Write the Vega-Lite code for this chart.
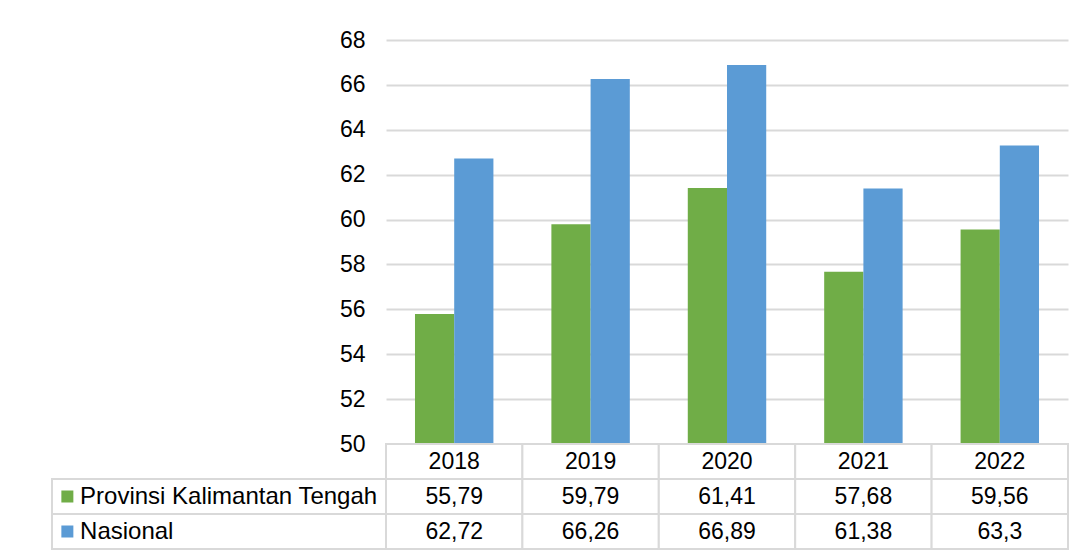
{
  "$schema": "https://vega.github.io/schema/vega-lite/v6.json",
  "background": "white",
  "padding": {"left": 51, "top": 29, "right": 20, "bottom": 7},
  "config": {
    "view": {"stroke": null},
    "font": "Liberation Sans",
    "locale": {"number": {"decimal": ",", "thousands": ".", "grouping": [3], "currency": ["", ""]}}
  },
  "datasets": {
    "bars": [
      {"year": "2018", "series": "Provinsi Kalimantan Tengah", "value": 55.79},
      {"year": "2019", "series": "Provinsi Kalimantan Tengah", "value": 59.79},
      {"year": "2020", "series": "Provinsi Kalimantan Tengah", "value": 61.41},
      {"year": "2021", "series": "Provinsi Kalimantan Tengah", "value": 57.68},
      {"year": "2022", "series": "Provinsi Kalimantan Tengah", "value": 59.56},
      {"year": "2018", "series": "Nasional", "value": 62.72},
      {"year": "2019", "series": "Nasional", "value": 66.26},
      {"year": "2020", "series": "Nasional", "value": 66.89},
      {"year": "2021", "series": "Nasional", "value": 61.38},
      {"year": "2022", "series": "Nasional", "value": 63.3}
    ]
  },
  "columns": 2,
  "spacing": 0,
  "bounds": "flush",
  "concat": [
    {
      "width": 334,
      "height": 404,
      "data": {"values": []},
      "mark": "point",
      "encoding": {}
    },
    {
      "width": 682,
      "height": 404,
      "data": {"name": "bars"},
      "mark": {"type": "bar", "clip": true},
      "encoding": {
        "x": {"field": "year", "type": "nominal", "scale": {"paddingInner": 0.425, "paddingOuter": 0.2125}, "axis": null},
        "xOffset": {"field": "series", "type": "nominal", "sort": ["Provinsi Kalimantan Tengah", "Nasional"], "scale": {"paddingInner": 0, "paddingOuter": 0}},
        "y": {
          "field": "value", "type": "quantitative",
          "scale": {"domain": [50, 68], "nice": false, "zero": false},
          "axis": {
            "values": [50, 52, 54, 56, 58, 60, 62, 64, 66, 68],
            "title": null, "domain": false, "ticks": false,
            "labelPadding": 21, "labelFontSize": 23, "labelColor": "#000000",
            "gridColor": "#d9d9d9", "gridWidth": 2
          }
        },
        "y2": {"datum": 50},
        "color": {
          "field": "series", "type": "nominal",
          "scale": {"domain": ["Provinsi Kalimantan Tengah", "Nasional"], "range": ["#70ad47", "#5b9bd5"]},
          "legend": null
        }
      }
    },
    {
      "width": 334,
      "height": 105,
      "data": {"name": "bars"},
      "transform": [{"aggregate": [{"op": "count", "as": "n"}], "groupby": ["series"]}],
      "encoding": {
        "y": {"field": "series", "type": "nominal", "scale": {"domain": ["year", "Provinsi Kalimantan Tengah", "Nasional"], "paddingInner": 0, "paddingOuter": 0}, "axis": null}
      },
      "layer": [
        {"mark": {"type": "rect", "fill": "white", "stroke": "#d9d9d9", "strokeWidth": 2}},
        {
          "mark": {"type": "point", "shape": "square", "filled": true, "size": 144, "opacity": 1},
          "encoding": {
            "x": {"datum": 0.046, "type": "quantitative", "scale": {"domain": [0, 1], "nice": false, "zero": false}, "axis": null},
            "color": {"field": "series", "type": "nominal", "scale": {"domain": ["Provinsi Kalimantan Tengah", "Nasional"], "range": ["#70ad47", "#5b9bd5"]}, "legend": null}
          }
        },
        {
          "mark": {"type": "text", "align": "left", "baseline": "middle", "fontSize": 24, "color": "#000000"},
          "encoding": {
            "x": {"datum": 0.084, "type": "quantitative"},
            "text": {"field": "series"}
          }
        }
      ]
    },
    {
      "width": 682,
      "height": 105,
      "data": {"name": "bars"},
      "encoding": {
        "x": {"field": "year", "type": "nominal", "scale": {"paddingInner": 0, "paddingOuter": 0}, "axis": null}
      },
      "layer": [
        {
          "transform": [{"aggregate": [{"op": "count", "as": "n"}], "groupby": ["year"]}],
          "mark": {"type": "rect", "fill": "white", "stroke": "#d9d9d9", "strokeWidth": 2},
          "encoding": {
            "y": {"datum": "year", "type": "nominal", "scale": {"domain": ["year", "Provinsi Kalimantan Tengah", "Nasional"], "paddingInner": 0, "paddingOuter": 0}, "axis": null}
          }
        },
        {
          "mark": {"type": "rect", "fill": "white", "stroke": "#d9d9d9", "strokeWidth": 2},
          "encoding": {
            "y": {"field": "series", "type": "nominal"}
          }
        },
        {
          "transform": [{"aggregate": [{"op": "count", "as": "n"}], "groupby": ["year"]}],
          "mark": {"type": "text", "fontSize": 23, "color": "#000000", "baseline": "middle"},
          "encoding": {
            "y": {"datum": "year", "type": "nominal"},
            "text": {"field": "year"}
          }
        },
        {
          "mark": {"type": "text", "fontSize": 23, "color": "#000000", "baseline": "middle"},
          "encoding": {
            "y": {"field": "series", "type": "nominal"},
            "text": {"field": "value", "type": "quantitative", "format": "~g"}
          }
        }
      ]
    }
  ]
}
